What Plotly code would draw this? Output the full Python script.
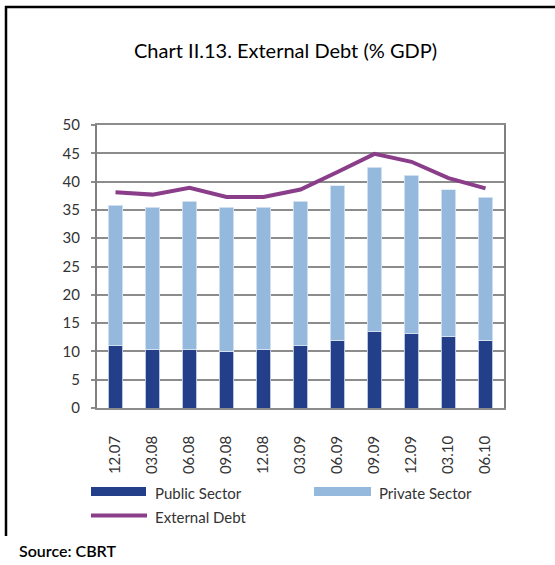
import plotly.graph_objects as go

# Quarter labels (month.year)
quarters = ["12.07", "03.08", "06.08", "09.08", "12.08", "03.09",
            "06.09", "09.09", "12.09", "03.10", "06.10"]

# Debt components, % of GDP
public_sector = [11.0, 10.3, 10.3, 10.0, 10.3, 11.0, 12.0, 13.5, 13.1, 12.7, 12.0]
private_sector = [24.8, 25.2, 26.2, 25.5, 25.2, 25.5, 27.3, 29.0, 28.0, 25.9, 25.2]
external_debt = [38.1, 37.7, 38.9, 37.3, 37.3, 38.6, 41.7, 44.9, 43.5, 40.6, 38.8]

y_ticks = [0, 5, 10, 15, 20, 25, 30, 35, 40, 45, 50]

DARK_BLUE = "#243F8A"
LIGHT_BLUE = "#95B8DD"
PURPLE = "#8A3E8A"
GRID = "#8C8C8C"
FONT = "Lato, 'Open Sans', sans-serif"

fig = go.Figure()
fig.add_trace(go.Bar(x=quarters, y=public_sector, name="Public Sector",
                     marker=dict(color=DARK_BLUE, line=dict(color="#dfe8f4", width=0.8))))
fig.add_trace(go.Bar(x=quarters, y=private_sector, name="Private Sector",
                     marker=dict(color=LIGHT_BLUE, line=dict(color="#dfe8f4", width=0.8))))
fig.add_trace(go.Scatter(x=quarters, y=external_debt, name="External Debt", mode="lines",
                         line=dict(color=PURPLE, width=4)))

W, H = 555, 565
L, R, T, B = 97, 51, 125, 157
pw, ph = W - L - R, H - T - B


def px(x):
    return (x - L) / pw


def py(y):
    return (H - B - y) / ph


shapes = [
    # outer frame: top and left rules
    dict(type="line", xref="paper", yref="paper", x0=px(5), x1=px(556), y0=py(7), y1=py(7),
         line=dict(color="black", width=2.5)),
    dict(type="line", xref="paper", yref="paper", x0=px(6), x1=px(6), y0=py(6), y1=py(536),
         line=dict(color="black", width=2.5)),
    # legend keys
    dict(type="rect", xref="paper", yref="paper", x0=px(91), x1=px(146), y0=py(487), y1=py(496),
         fillcolor=DARK_BLUE, line=dict(width=0)),
    dict(type="rect", xref="paper", yref="paper", x0=px(314), x1=px(371), y0=py(487), y1=py(496),
         fillcolor=LIGHT_BLUE, line=dict(width=0)),
    dict(type="line", xref="paper", yref="paper", x0=px(91), x1=px(147), y0=py(515.5), y1=py(515.5),
         line=dict(color=PURPLE, width=4)),
]

text_col = "#333333"
annotations = [
    dict(text="Chart II.13. External Debt (% GDP)", xref="paper", yref="paper",
         x=px(285), y=py(50), xanchor="center", yanchor="middle", showarrow=False,
         font=dict(size=20, color="black", family=FONT)),
    dict(text="Public Sector", xref="paper", yref="paper", x=px(153), y=py(493),
         xanchor="left", yanchor="middle", showarrow=False,
         font=dict(size=15, color=text_col, family=FONT)),
    dict(text="Private Sector", xref="paper", yref="paper", x=px(377), y=py(493),
         xanchor="left", yanchor="middle", showarrow=False,
         font=dict(size=15, color=text_col, family=FONT)),
    dict(text="External Debt", xref="paper", yref="paper", x=px(153), y=py(517),
         xanchor="left", yanchor="middle", showarrow=False,
         font=dict(size=15, color=text_col, family=FONT)),
    dict(text="Source: CBRT", xref="paper", yref="paper", x=px(17), y=py(550),
         xanchor="left", yanchor="middle", showarrow=False,
         font=dict(size=16, color="black", family=FONT, weight=600)),
]

fig.update_layout(
    width=W, height=H,
    margin=dict(l=L, r=R, t=T, b=B),
    barmode="stack", bargap=0.6,
    plot_bgcolor="white", paper_bgcolor="white",
    showlegend=False,
    font=dict(family=FONT, color=text_col),
    shapes=shapes, annotations=annotations,
)
fig.update_yaxes(range=[0, 50], tickvals=y_ticks, showgrid=True, gridcolor=GRID, gridwidth=1.5,
                 showline=True, linecolor="#7F7F7F", linewidth=2, mirror=True,
                 ticks="outside", ticklen=4, tickcolor=GRID, tickwidth=1.5,
                 tickfont=dict(size=15, color=text_col), ticklabelstandoff=8, zeroline=False)
fig.update_xaxes(showline=True, linecolor="#8C8C8C", linewidth=1.5, mirror=True,
                 tickangle=-90, tickfont=dict(size=15, color=text_col), ticklabelstandoff=20,
                 ticks="")

fig.write_html("out.html")
